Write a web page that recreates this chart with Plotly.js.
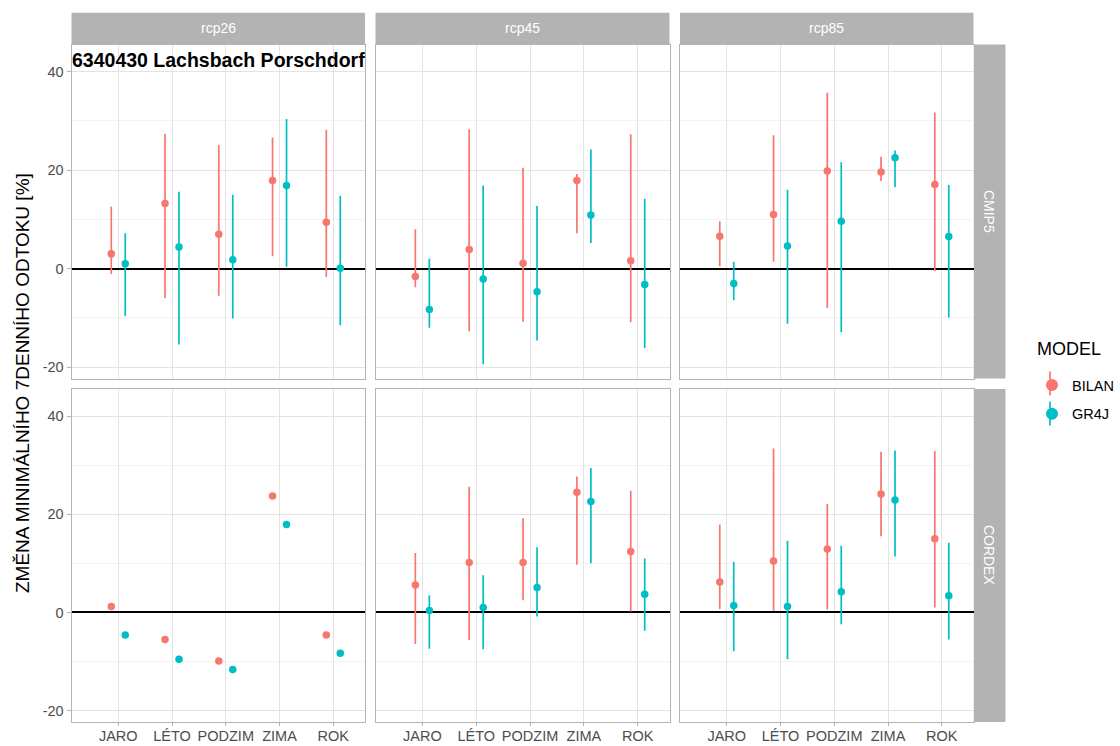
<!DOCTYPE html>
<html>
<head>
<meta charset="utf-8">
<script src="https://cdn.plot.ly/plotly-3.0.1.min.js"></script>
<style>html,body{margin:0;padding:0;background:#fff;}#chart{width:1120px;height:746px;}</style>
</head>
<body>
<div id="chart"></div>
<script>
// ---------- DATA ----------
const categories = ['JARO', 'LÉTO', 'PODZIM', 'ZIMA', 'ROK'];
const scenarios = ['rcp26', 'rcp45', 'rcp85'];
const ensembles = ['CMIP5', 'CORDEX'];
const models = ['BILAN', 'GR4J'];
const yTickValues = [-20, 0, 20, 40];
const stationTitle = '6340430 Lachsbach Porschdorf';
const yTitle = 'ZMĚNA MINIMÁLNÍHO 7DENNÍHO ODTOKU [%]';
const legendTitle = 'MODEL';

// CMIP5 rcp26
const cmip5_rcp26_BILAN_val = [3.0, 13.2, 7.0, 17.9, 9.4];
const cmip5_rcp26_BILAN_lo  = [-1.1, -6.0, -5.5, 2.5, -1.7];
const cmip5_rcp26_BILAN_hi  = [12.6, 27.4, 25.1, 26.6, 28.2];
const cmip5_rcp26_GR4J_val  = [1.0, 4.4, 1.8, 16.9, 0.1];
const cmip5_rcp26_GR4J_lo   = [-9.6, -15.4, -10.1, 0.4, -11.5];
const cmip5_rcp26_GR4J_hi   = [7.2, 15.6, 15.0, 30.4, 14.8];
// CMIP5 rcp45
const cmip5_rcp45_BILAN_val = [-1.6, 3.9, 1.1, 17.9, 1.6];
const cmip5_rcp45_BILAN_lo  = [-3.8, -12.7, -10.8, 7.2, -10.9];
const cmip5_rcp45_BILAN_hi  = [8.0, 28.3, 20.5, 19.2, 27.3];
const cmip5_rcp45_GR4J_val  = [-8.3, -2.1, -4.7, 10.9, -3.2];
const cmip5_rcp45_GR4J_lo   = [-12.0, -19.4, -14.6, 5.2, -16.1];
const cmip5_rcp45_GR4J_hi   = [2.0, 16.9, 12.7, 24.2, 14.2];
// CMIP5 rcp85
const cmip5_rcp85_BILAN_val = [6.6, 11.0, 19.8, 19.6, 17.1];
const cmip5_rcp85_BILAN_lo  = [0.5, 1.4, -8.0, 17.8, -0.5];
const cmip5_rcp85_BILAN_hi  = [9.6, 27.1, 35.7, 22.7, 31.7];
const cmip5_rcp85_GR4J_val  = [-3.0, 4.6, 9.6, 22.5, 6.5];
const cmip5_rcp85_GR4J_lo   = [-6.4, -11.2, -12.9, 16.5, -9.9];
const cmip5_rcp85_GR4J_hi   = [1.4, 16.0, 21.6, 24.0, 17.0];
// CORDEX rcp26 (single runs, no range)
const cordex_rcp26_BILAN_val = [1.2, -5.5, -9.9, 23.7, -4.6];
const cordex_rcp26_BILAN_lo  = [null, null, null, null, null];
const cordex_rcp26_BILAN_hi  = [null, null, null, null, null];
const cordex_rcp26_GR4J_val  = [-4.6, -9.5, -11.6, 17.9, -8.3];
const cordex_rcp26_GR4J_lo   = [null, null, null, null, null];
const cordex_rcp26_GR4J_hi   = [null, null, null, null, null];
// CORDEX rcp45
const cordex_rcp45_BILAN_val = [5.6, 10.2, 10.2, 24.5, 12.4];
const cordex_rcp45_BILAN_lo  = [-6.4, -5.6, 2.5, 9.7, 0.2];
const cordex_rcp45_BILAN_hi  = [12.1, 25.6, 19.2, 27.7, 24.8];
const cordex_rcp45_GR4J_val  = [0.4, 1.0, 5.1, 22.6, 3.7];
const cordex_rcp45_GR4J_lo   = [-7.4, -7.5, -0.8, 10.0, -3.7];
const cordex_rcp45_GR4J_hi   = [3.5, 7.6, 13.3, 29.4, 11.0];
// CORDEX rcp85
const cordex_rcp85_BILAN_val = [6.2, 10.5, 12.9, 24.1, 15.0];
const cordex_rcp85_BILAN_lo  = [0.7, 0.3, 0.6, 15.5, 1.0];
const cordex_rcp85_BILAN_hi  = [17.9, 33.4, 22.1, 32.7, 32.9];
const cordex_rcp85_GR4J_val  = [1.4, 1.2, 4.2, 22.9, 3.4];
const cordex_rcp85_GR4J_lo   = [-7.9, -9.5, -2.4, 11.4, -5.5];
const cordex_rcp85_GR4J_hi   = [10.3, 14.6, 13.6, 33.0, 14.2];

const panelData = {
  CMIP5: {
    rcp26: {BILAN: [cmip5_rcp26_BILAN_val, cmip5_rcp26_BILAN_lo, cmip5_rcp26_BILAN_hi], GR4J: [cmip5_rcp26_GR4J_val, cmip5_rcp26_GR4J_lo, cmip5_rcp26_GR4J_hi]},
    rcp45: {BILAN: [cmip5_rcp45_BILAN_val, cmip5_rcp45_BILAN_lo, cmip5_rcp45_BILAN_hi], GR4J: [cmip5_rcp45_GR4J_val, cmip5_rcp45_GR4J_lo, cmip5_rcp45_GR4J_hi]},
    rcp85: {BILAN: [cmip5_rcp85_BILAN_val, cmip5_rcp85_BILAN_lo, cmip5_rcp85_BILAN_hi], GR4J: [cmip5_rcp85_GR4J_val, cmip5_rcp85_GR4J_lo, cmip5_rcp85_GR4J_hi]}
  },
  CORDEX: {
    rcp26: {BILAN: [cordex_rcp26_BILAN_val, cordex_rcp26_BILAN_lo, cordex_rcp26_BILAN_hi], GR4J: [cordex_rcp26_GR4J_val, cordex_rcp26_GR4J_lo, cordex_rcp26_GR4J_hi]},
    rcp45: {BILAN: [cordex_rcp45_BILAN_val, cordex_rcp45_BILAN_lo, cordex_rcp45_BILAN_hi], GR4J: [cordex_rcp45_GR4J_val, cordex_rcp45_GR4J_lo, cordex_rcp45_GR4J_hi]},
    rcp85: {BILAN: [cordex_rcp85_BILAN_val, cordex_rcp85_BILAN_lo, cordex_rcp85_BILAN_hi], GR4J: [cordex_rcp85_GR4J_val, cordex_rcp85_GR4J_lo, cordex_rcp85_GR4J_hi]}
  }
};

// ---------- STYLE / LAYOUT ----------
const W = 1120, H = 746;
const colors = {BILAN: '#F8766D', GR4J: '#00BFC4'};
const dodge = {BILAN: -0.13, GR4J: 0.13};
const FONT = 'Liberation Sans, Arial, Helvetica, sans-serif';
const colPx = [[71.5, 365], [375.5, 669.5], [680, 973.5]];
const rowPx = [[44.5, 378.5], [389, 722]];
const xRange = [0.13, 5.59];
const yRange = [-22.3, 45.5];
const px2x = p => p / W;
const px2y = p => 1 - p / H;

const traces = [];
const layout = {
  width: W, height: H,
  margin: {l: 0, r: 0, t: 0, b: 0},
  paper_bgcolor: '#ffffff', plot_bgcolor: '#ffffff',
  font: {family: FONT, size: 14, color: '#4d4d4d'},
  showlegend: true,
  legend: {
    x: px2x(1032), y: px2y(369), xanchor: 'left', yanchor: 'top',
    font: {size: 14.5, color: '#000000'},
    itemsizing: 'constant', bgcolor: 'rgba(0,0,0,0)', tracegroupgap: 7
  },
  shapes: [], annotations: []
};

ensembles.forEach((ens, r) => {
  scenarios.forEach((sc, c) => {
    const idx = r * 3 + c + 1;
    const xa = 'xaxis' + (idx === 1 ? '' : idx);
    const ya = 'yaxis' + (idx === 1 ? '' : idx);
    const xref = 'x' + (idx === 1 ? '' : idx);
    const yref = 'y' + (idx === 1 ? '' : idx);
    layout[xa] = {
      domain: [px2x(colPx[c][0]), px2x(colPx[c][1])],
      anchor: yref, range: xRange, fixedrange: true,
      tickvals: categories.map((_, i) => i + 1),
      ticktext: categories,
      showticklabels: r === 1,
      ticks: r === 1 ? 'outside' : '', ticklen: 3, tickcolor: '#b3b3b3', tickwidth: 1,
      ticklabelstandoff: -2,
      tickfont: {size: 14.5, color: '#4d4d4d'},
      showgrid: true, gridcolor: '#e3e3e3', gridwidth: 1,
      zeroline: false,
      showline: true, mirror: true, linecolor: '#b3b3b3', linewidth: 1
    };
    layout[ya] = {
      domain: [px2y(rowPx[r][1]), px2y(rowPx[r][0])],
      anchor: xref, range: yRange, fixedrange: true,
      tickvals: yTickValues, ticktext: yTickValues.map(v => String(v)),
      showticklabels: c === 0,
      ticks: c === 0 ? 'outside' : '', ticklen: 4, tickcolor: '#b3b3b3', tickwidth: 1,
      tickfont: {size: 14.5, color: '#4d4d4d'},
      showgrid: true, gridcolor: '#e3e3e3', gridwidth: 1,
      minor: {dtick: 10, tick0: 0, showgrid: true, gridcolor: '#f3f3f3', gridwidth: 1, ticks: ''},
      zeroline: true, zerolinecolor: '#000000', zerolinewidth: 2,
      showline: true, mirror: true, linecolor: '#b3b3b3', linewidth: 1
    };
    models.forEach(m => {
      const [val, lo, hi] = panelData[ens][sc][m];
      traces.push({
        type: 'scatter', mode: 'markers',
        x: categories.map((_, i) => i + 1 + dodge[m]),
        y: val,
        xaxis: xref, yaxis: yref,
        name: m, legendgroup: m, showlegend: idx === 1,
        marker: {color: colors[m], size: 7.5},
        error_y: {
          type: 'data', symmetric: false,
          array: val.map((v, i) => hi[i] === null ? null : hi[i] - v),
          arrayminus: val.map((v, i) => lo[i] === null ? null : v - lo[i]),
          color: colors[m], thickness: 1.7, width: 0
        },
        hoverinfo: 'x+y'
      });
    });
  });
});

// facet strips (top)
scenarios.forEach((sc, c) => {
  layout.shapes.push({type: 'rect', xref: 'paper', yref: 'paper',
    x0: px2x(colPx[c][0]), x1: px2x(colPx[c][1]), y0: px2y(44.3), y1: px2y(12.7),
    fillcolor: '#b3b3b3', line: {width: 0}, layer: 'below'});
  layout.annotations.push({xref: 'paper', yref: 'paper', x: px2x((colPx[c][0] + colPx[c][1]) / 2), y: px2y(28.5),
    text: sc, showarrow: false, font: {size: 14, color: '#ffffff'}, xanchor: 'center', yanchor: 'middle'});
});
// facet strips (right)
ensembles.forEach((ens, r) => {
  layout.shapes.push({type: 'rect', xref: 'paper', yref: 'paper',
    x0: px2x(973.8), x1: px2x(1005.5), y0: px2y(rowPx[r][1]), y1: px2y(rowPx[r][0]),
    fillcolor: '#b3b3b3', line: {width: 0}, layer: 'below'});
  layout.annotations.push({xref: 'paper', yref: 'paper', x: px2x(989.6), y: px2y((rowPx[r][0] + rowPx[r][1]) / 2),
    text: ens, showarrow: false, textangle: 90, font: {size: 14, color: '#ffffff'}, xanchor: 'center', yanchor: 'middle'});
});
// legend title and key range lines
layout.annotations.push({xref: 'paper', yref: 'paper', x: px2x(1035), y: px2y(349),
  text: legendTitle, showarrow: false, xanchor: 'left', yanchor: 'middle',
  font: {size: 18, color: '#000000'}});
models.forEach((m, k) => {
  const cy = 383.5 + k * 30;
  layout.shapes.push({type: 'line', xref: 'paper', yref: 'paper',
    x0: px2x(1050), x1: px2x(1050), y0: px2y(cy - 12), y1: px2y(cy + 12),
    line: {color: colors[m], width: 1.7}, layer: 'below'});
});
// station title inside first panel
layout.annotations.push({xref: 'paper', yref: 'paper', x: px2x(70), y: px2y(60),
  text: '<b>' + stationTitle + '</b>', showarrow: false, xanchor: 'left', yanchor: 'middle',
  font: {size: 19.5, color: '#000000'}});
// common y title
layout.annotations.push({xref: 'paper', yref: 'paper', x: px2x(22), y: px2y(383),
  text: yTitle, showarrow: false, textangle: -90, xanchor: 'center', yanchor: 'middle',
  font: {size: 19, color: '#000000'}});

Plotly.newPlot('chart', traces, layout, {staticPlot: true, displayModeBar: false});
</script>
</body>
</html>
